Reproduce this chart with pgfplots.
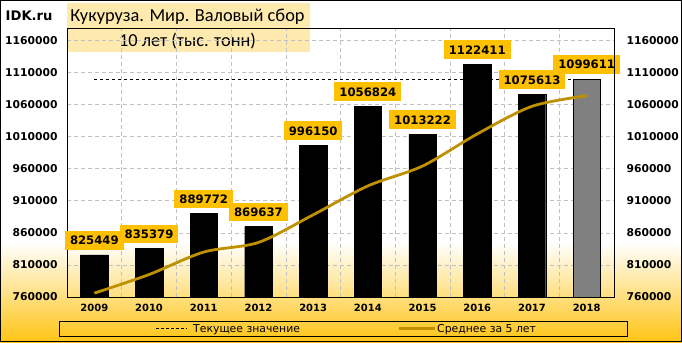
\documentclass[border=0pt]{standalone}
\usepackage{pgfplots}
\pgfplotsset{compat=1.18}
\usepackage{fontspec}
\setmainfont{DejaVu Sans}
\newfontfamily\carl{Carlito}
\definecolor{gold}{RGB}{255,192,0}
\definecolor{deepgold}{RGB}{255,196,20}
\definecolor{avgc}{RGB}{191,144,0}
\definecolor{titlebg}{RGB}{254,233,175}
\definecolor{gridc}{RGB}{192,192,192}
\definecolor{bar18}{RGB}{128,128,128}
\pgfplotstableread{
x y l
0 825449 825449
1 835379 835379
2 889772 889772
3 869637 869637
4 996150 996150
5 1056824 1056824
6 1013222 1013222
7 1122411 1122411
8 1075613 1075613
9 1099611 1099611
}\prodtab
\pgfplotstableread{
x y
0 766000
1 795000
2 830000
3 845000
4 888000
5 933000
6 964000
7 1014000
8 1057000
9 1073500
}\avgtab
\begin{document}
\begin{tikzpicture}[x=1bp,y=1bp]
\useasboundingbox (0,0) rectangle (682,342);
\fill[white] (0,0) rectangle (682,342);
\shade[top color=white, bottom color=deepgold] (0,0) rectangle (682,100);
\fill[titlebg] (67,290) rectangle (310,339);
\node[font=\carl\fontsize{18.4}{21}\selectfont, anchor=base, inner sep=0] at (187.5,320.3) {Кукуруза. Мир. Валовый сбор};
\node[font=\carl\fontsize{18.4}{21}\selectfont, anchor=base, inner sep=0] at (187.5,296) {10 лет (тыс. тонн)};
\node[font=\bfseries\fontsize{13.2}{15}\selectfont, anchor=base west, inner sep=0] at (5.5,321.3) {IDK.ru};
\begin{axis}[
  at={(67bp,45bp)}, anchor=south west, scale only axis,
  width=547bp, height=269bp,
  xmin=-0.5, xmax=9.5, ymin=760000, ymax=1179000,
  ytick={760000,810000,860000,910000,960000,1010000,1060000,1110000,1160000},
  yticklabels={760000,810000,860000,910000,960000,1010000,1060000,1110000,1160000},
  xtick={0,1,2,3,4,5,6,7,8,9},
  xticklabels={2009,2010,2011,2012,2013,2014,2015,2016,2017,2018},
  minor xtick={0.5,1.5,2.5,3.5,4.5,5.5,6.5,7.5,8.5},
  ymajorgrids, xminorgrids,
  grid style={gridc, line width=0.6bp, dash pattern=on 4bp off 3bp},
  minor grid style={gridc, line width=0.6bp, dash pattern=on 4bp off 3bp},
  major tick length=0pt, minor tick length=0pt,
  axis line style={black, line width=0.8bp},
  scaled y ticks=false,
  yticklabel style={font=\bfseries\fontsize{10.8}{13}\selectfont, xshift=-6bp},
  xticklabel style={font=\bfseries\fontsize{10}{12}\selectfont, yshift=-4bp},
]
\addplot[black, line width=0.8bp, dash pattern=on 3bp off 3bp] coordinates {(0,1099611) (9,1099611)};
\addplot[ybar, bar width=27.5bp, bar shift=0pt, fill=black, draw=black] coordinates {
(0,825449) (1,835379) (2,889772) (3,869637) (4,996150) (5,1056824) (6,1013222) (7,1122411) (8,1075613)};
\addplot[ybar, bar width=27.5bp, bar shift=0pt, fill=bar18, draw=black, line width=0.8bp] coordinates {(9,1099611)};
\addplot[avgc, line width=2.8bp, smooth, tension=0.5] table[x=x,y=y] {\avgtab};
\addplot[draw=none, mark=none, nodes near coords, point meta=explicit symbolic,
  every node near coord/.style={fill=gold, text=black, font=\bfseries\fontsize{11.7}{13}\selectfont, inner xsep=5bp, inner ysep=5bp, anchor=south, yshift=5bp}]
  table[x=x,y=y,meta=l] {\prodtab};
\end{axis}
\begin{axis}[
  at={(67bp,45bp)}, anchor=south west, scale only axis,
  width=547bp, height=269bp,
  xmin=-0.5, xmax=9.5, ymin=760000, ymax=1179000,
  axis y line*=right, axis x line=none,
  ytick={760000,810000,860000,910000,960000,1010000,1060000,1110000,1160000},
  yticklabels={760000,810000,860000,910000,960000,1010000,1060000,1110000,1160000},
  major tick length=0pt,
  axis line style={black, line width=0.8bp},
  scaled y ticks=false,
  yticklabel style={font=\bfseries\fontsize{10.8}{13}\selectfont, xshift=9bp},
]
\addplot[draw=none] coordinates {(0,800000)};
\end{axis}
\draw[black, line width=0.8bp] (59,6) rectangle (627,21);
\draw[black, line width=0.8bp, dash pattern=on 3bp off 2bp] (156,13.5) -- (187,13.5);
\node[font=\fontsize{10.9}{12}\selectfont, anchor=base west, inner sep=0] at (193,10) {Текущее значение};
\draw[avgc, line width=2.8bp] (399,13.5) -- (435,13.5);
\node[font=\fontsize{10.9}{12}\selectfont, anchor=base west, inner sep=0] at (437,10) {Среднее за 5 лет};
\draw[black, line width=1bp] (0.5,0.5) rectangle (681.5,341.5);
\end{tikzpicture}
\end{document}
